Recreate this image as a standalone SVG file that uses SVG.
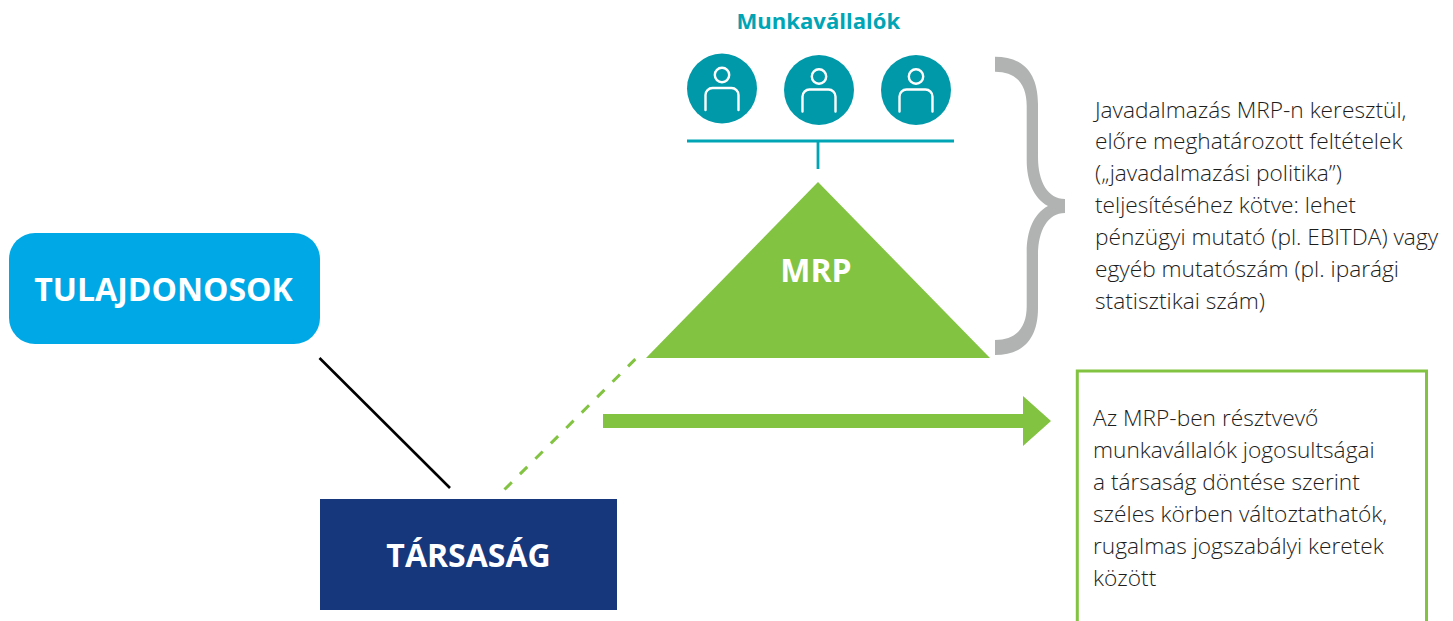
<svg xmlns="http://www.w3.org/2000/svg" width="1453" height="621" viewBox="0 0 1453 621">
<style>
.body{font-family:"Open Sans","Noto Sans",sans-serif;font-weight:300;font-size:22.7px;fill:#1d1d1b}
.title{font-family:"Open Sans","Noto Sans",sans-serif;font-weight:700;fill:#fff;text-anchor:middle}
.head{fill:#0099aa}
.fig{fill:none;stroke:#fff;stroke-width:2.4;stroke-linecap:round}
</style>
<defs>
<g id="person"><circle cx="0" cy="-13.500" r="7.200" class="fig"/><path class="fig" d="M-16.500 21.500V6.500a7 7 0 0 1 7-7H9.500a7 7 0 0 1 7 7V21.500"/></g>
</defs>
<rect width="1453" height="621" fill="#fff"/>
<g id="connectors" fill="none">
<line x1="319.500" y1="358" x2="450" y2="488" stroke="#000" stroke-width="2.600"/>
<line x1="504.500" y1="489.500" x2="637" y2="357.500" stroke="#82c341" stroke-width="3" stroke-dasharray="10.300 11.500"/>
<path id="arrow-right" d="M603 414H1023V396L1051 421L1023 446V428H603Z" fill="#82c341"/>
<path d="M687 141H954M818 141V169" stroke="#00a5b5" stroke-width="2.800"/>
</g>
<g id="tulajdonosok"><rect x="9" y="233" width="311" height="111" rx="26" fill="#00a9e6"/><text class="title" x="163.500" y="301" font-size="32">TULAJDONOSOK</text></g>
<g id="tarsasag"><rect x="320" y="499" width="297" height="111" fill="#16377c"/><text class="title" x="468.500" y="567" font-size="32">TÁRSASÁG</text></g>
<g id="mrp"><path d="M818 182L990 358H646Z" fill="#82c341"/><text class="title" x="816" y="282" font-size="32">MRP</text></g>
<g id="munkavallalok"><text class="title" x="818.300" y="29.300" font-size="22.100" style="fill:#00a5b5">Munkavállalók</text></g>
<g id="worker-1"><circle class="head" cx="722" cy="88.500" r="35"/><use href="#person" x="722" y="88.500"/></g>
<g id="worker-2"><circle class="head" cx="819" cy="90" r="35"/><use href="#person" x="819" y="90"/></g>
<g id="worker-3"><circle class="head" cx="916" cy="90" r="35"/><use href="#person" x="916" y="90"/></g>
<g id="brace"><path d="M995 56.700C1022 56.700 1038 72 1038 104V157C1038 182 1048 199 1065 199V213C1048 213 1038 230 1038 255V308C1038 340 1022 355 995 355V340C1016 340 1026.700 328 1026.700 306V252C1026.700 232 1033 214 1048 206C1033 198 1026.700 180 1026.700 160V106C1026.700 84 1016 71.700 995 71.700Z" fill="#b1b3b3"/></g>
<g id="note-top"><text class="body">
<tspan x="1095" y="117.500">Javadalmazás MRP-n keresztül,</tspan>
<tspan x="1095" y="149.400">előre meghatározott feltételek</tspan>
<tspan x="1095" y="181.300">(„javadalmazási politika”)</tspan>
<tspan x="1095" y="213.200">teljesítéséhez kötve: lehet</tspan>
<tspan x="1095" y="245.100">pénzügyi mutató (pl. EBITDA) vagy</tspan>
<tspan x="1095" y="277">egyéb mutatószám (pl. iparági</tspan>
<tspan x="1095" y="309">statisztikai szám)</tspan>
</text></g>
<g id="note-bottom"><path d="M1077.300 621V371H1426.500V621" fill="none" stroke="#82c341" stroke-width="3"/><text class="body">
<tspan x="1093" y="426">Az MRP-ben résztvevő</tspan>
<tspan x="1093" y="458">munkavállalók jogosultságai</tspan>
<tspan x="1093" y="490">a társaság döntése szerint</tspan>
<tspan x="1093" y="522">széles körben változtathatók,</tspan>
<tspan x="1093" y="554">rugalmas jogszabályi keretek</tspan>
<tspan x="1093" y="586">között</tspan>
</text></g>
</svg>
